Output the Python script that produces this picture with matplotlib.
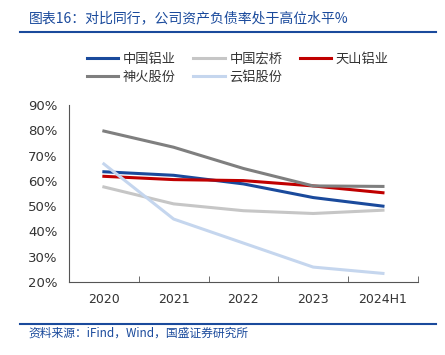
import matplotlib
matplotlib.use('agg')
import matplotlib.pyplot as plt
import numpy as np
from matplotlib.lines import Line2D

plt.rcParams['font.family'] = ['Noto Sans CJK SC', 'DejaVu Sans']

years = ['2020', '2021', '2022', '2023', '2024H1']
chalco = [63.6, 62.2, 58.8, 53.4, 50.0]
hongqiao = [57.6, 50.9, 48.2, 47.1, 48.4]
tianshan = [61.8, 60.5, 60.1, 58.0, 55.3]
shenhuo = [79.7, 73.3, 64.9, 58.0, 57.8]
yunlv = [66.7, 44.9, 35.4, 25.9, 23.4]
yticks = [20, 30, 40, 50, 60, 70, 80, 90]

series = [
    ('中国铝业', chalco, '#1a4a9c'),
    ('中国宏桥', hongqiao, '#c6c6c6'),
    ('天山铝业', tianshan, '#c00000'),
    ('神火股份', shenhuo, '#7f7f7f'),
    ('云铝股份', yunlv, '#c5d6ee'),
]


def main():
    fig = plt.figure(figsize=(4.45, 3.55), dpi=100)
    ax = fig.add_axes([0.155, 0.2056, 0.784, 0.4986])
    x = np.arange(len(years))
    handles = {}
    for name, vals, color in series:
        line, = ax.plot(x, vals, color=color, lw=2.2, label=name)
        handles[name] = line

    ax.set_xlim(-0.5, len(years) - 0.5)
    ax.set_ylim(20, 90)
    ax.set_yticks(yticks)
    ax.set_yticklabels(['{}%'.format(v) for v in yticks], family='DejaVu Sans',
                       fontsize=9.5, color='#333333')
    ax.set_xticks(x)
    ax.set_xticklabels(years, family='DejaVu Sans', fontsize=9, color='#333333')
    ax.tick_params(axis='x', length=0, pad=8)
    ax.tick_params(axis='y', length=0, pad=8)
    ax.set_xticks(np.arange(len(years) + 1) - 0.5, minor=True)
    ax.tick_params(axis='x', which='minor', direction='in', length=4, color='#555555')
    for s in ['top', 'right']:
        ax.spines[s].set_visible(False)
    for s in ['left', 'bottom']:
        ax.spines[s].set_color('#555555')
        ax.spines[s].set_linewidth(0.8)

    order = ['中国铝业', '神火股份', '中国宏桥', '云铝股份', '天山铝业']
    fig.legend([handles[n] for n in order], order, ncol=3, frameon=False,
               loc='upper left', bbox_to_anchor=(0.168, 0.885), fontsize=9.5,
               handlelength=2.4, columnspacing=1.3, labelspacing=0.4,
               handletextpad=0.35, labelcolor='#333333')

    fig.text(0.065, 0.948, '图表16：对比同行，公司资产负债率处于高位水平%',
             color='#1a4a9c', fontsize=10, style='italic', va='center')
    fig.add_artist(Line2D([0.045, 0.98], [0.91, 0.91], color='#1a4a9c', lw=1.5))
    fig.add_artist(Line2D([0.045, 0.98], [0.087, 0.087], color='#1a4a9c', lw=1.5))
    fig.text(0.065, 0.062, '资料来源：iFind，Wind，国盛证券研究所',
             color='#1a4a9c', fontsize=8.5, style='italic', va='center')

    fig.savefig('out.png', dpi=100)


if __name__ == '__main__':
    main()
